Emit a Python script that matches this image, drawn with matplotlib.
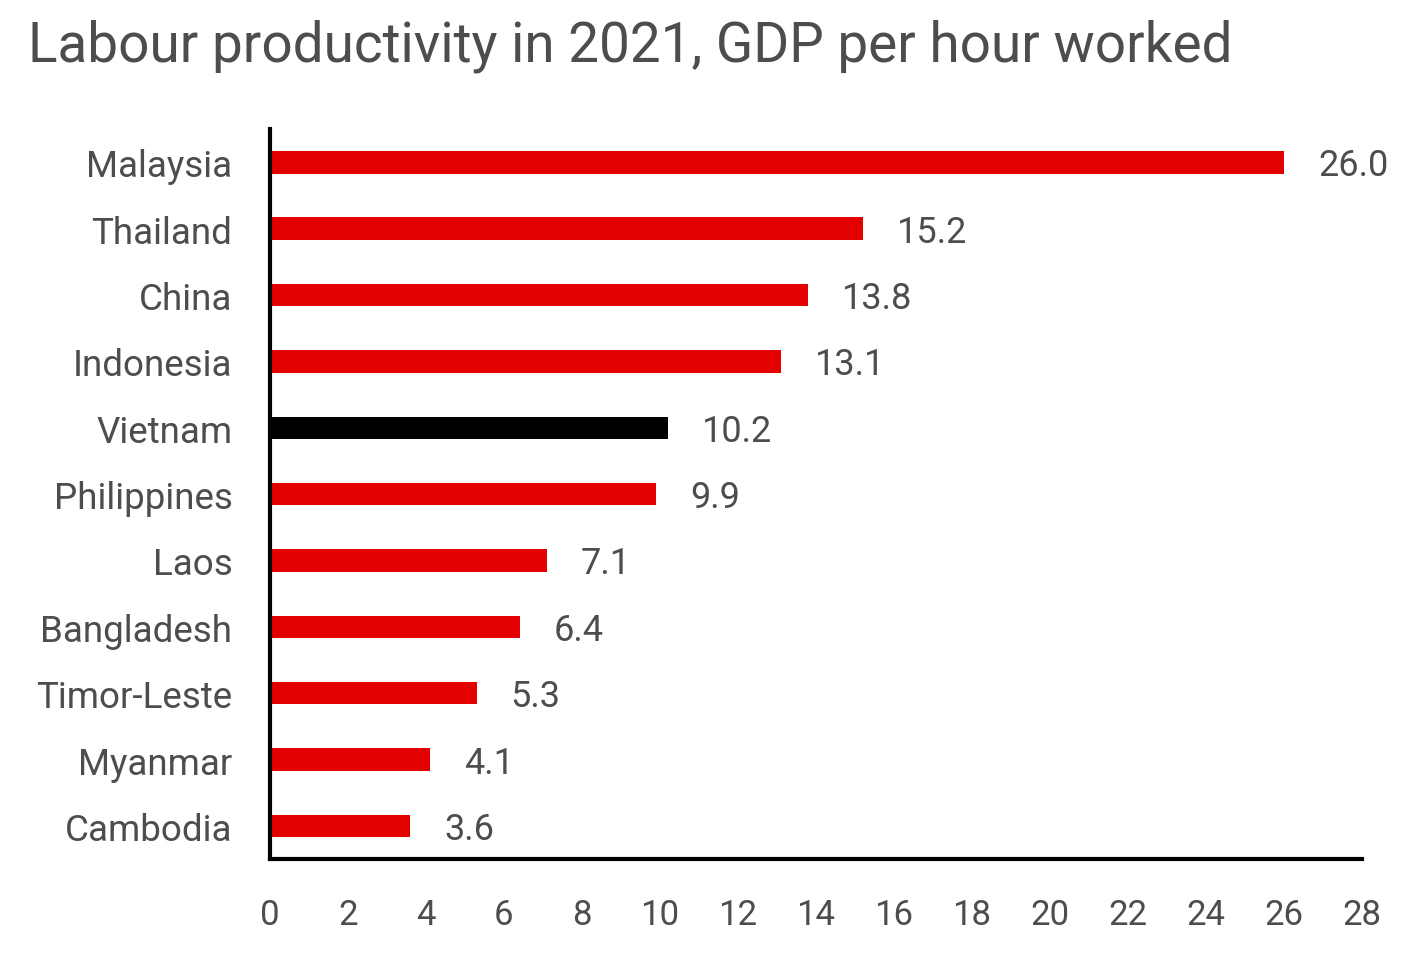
import matplotlib.pyplot as plt

# data, top to bottom as shown
countries = ['Malaysia', 'Thailand', 'China', 'Indonesia', 'Vietnam',
             'Philippines', 'Laos', 'Bangladesh', 'Timor-Leste', 'Myanmar',
             'Cambodia']
values = [26.0, 15.2, 13.8, 13.1, 10.2, 9.9, 7.1, 6.4, 5.3, 4.1, 3.6]
highlight = 'Vietnam'
xticks = list(range(0, 29, 2))

RED = '#e30000'
TEXT = '#4d4d4d'
plt.rcParams['font.family'] = ['Roboto', 'DejaVu Sans']

fig = plt.figure(figsize=(14.21, 9.54), dpi=100, facecolor='w')
ax = fig.add_axes([0.19, 0.0985, 0.7685, 0.765])

pos = list(range(len(countries)))[::-1]
colors = ['black' if c == highlight else RED for c in countries]
bars = ax.barh(pos, values, height=0.34, color=colors)

# value labels to the right of each bar
for b, v in zip(bars, values):
    ax.annotate('%.1f' % v, (b.get_width(), b.get_y() + b.get_height() / 2),
                xytext=(34, -3), textcoords='offset pixels',
                va='center', ha='left', fontsize=26, color=TEXT)

ax.set_yticks(pos)
ax.set_yticklabels(countries, fontsize=26.5, color=TEXT)
ax.set_xticks(xticks)
ax.set_xticklabels([str(t) for t in xticks], fontsize=25, color=TEXT)
ax.set_xlim(0, 28)
ax.set_ylim(-0.5, len(countries) - 0.5)
ax.tick_params(length=0)
ax.tick_params(axis='y', pad=27)
ax.tick_params(axis='x', pad=28)

for s in ('top', 'right'):
    ax.spines[s].set_visible(False)
for s in ('left', 'bottom'):
    ax.spines[s].set_linewidth(3)
    ax.spines[s].set_color('black')

fig.text(0.02, 0.952, 'Labour productivity in 2021, GDP per hour worked',
         fontsize=39.5, color=TEXT, va='center', ha='left')

fig.savefig('out.png', dpi=100)
